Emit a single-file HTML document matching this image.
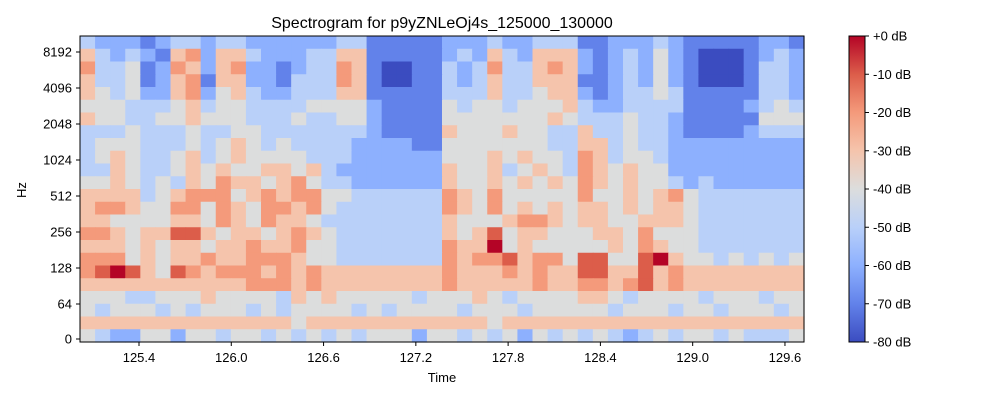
<!DOCTYPE html>
<html><head><meta charset="utf-8">
<style>
body{margin:0;background:#fff;}
svg text{font-family:"Liberation Sans",sans-serif;fill:#000;}
</style></head>
<body>
<svg id="chart" width="1000" height="400" viewBox="0 0 1000 400">
<defs>
<linearGradient id="cmap" x1="0" y1="1" x2="0" y2="0">
<stop offset="0" stop-color="#3b4cc0"/><stop offset="0.125" stop-color="#6282ea"/>
<stop offset="0.25" stop-color="#8db0fe"/><stop offset="0.375" stop-color="#b9d0f9"/>
<stop offset="0.5" stop-color="#dcdddd"/><stop offset="0.625" stop-color="#f5c4ac"/>
<stop offset="0.75" stop-color="#f49a7b"/><stop offset="0.875" stop-color="#dc5d4a"/>
<stop offset="1" stop-color="#b40426"/>
</linearGradient>
</defs>
<text x="442" y="28" font-size="16" text-anchor="middle">Spectrogram for p9yZNLeOj4s_125000_130000</text>
<g id="cells"></g>
<rect x="80" y="36" width="724" height="306" fill="none" stroke="#000" stroke-width="1"/>
<g id="xticks"></g>
<g id="yticks"></g>
<text x="442" y="382" font-size="13" text-anchor="middle">Time</text>
<text x="26" y="190" font-size="13" text-anchor="middle" transform="rotate(-90 26 190)">Hz</text>
<rect x="849" y="36" width="16" height="306" fill="url(#cmap)" stroke="#000" stroke-width="1"/>
<g id="cbticks"></g>
</svg>
<script>
const xTickLabels = ["125.4","126.0","126.6","127.2","127.8","128.4","129.0","129.6"];
const yTickLabels = [0,64,128,256,512,1024,2048,4096,8192];
const cbTickLabels = [0,-10,-20,-30,-40,-50,-60,-70,-80];
// each row: 48 time columns, digit d = -10*d dB; row 0 = highest frequency
const dbRows = [
"566676556556666665577777666566555776665677777667",
"356567326335666553377777656356333676564678887656",
"255476236326676552378877565255323676564678887556",
"355476327336675552378877565355333776564678887556",
"345466326435665553377777555355433676554577777556",
"444555435445555444467777454454443566555577776545",
"344554434445554554467777444444434555455677777444",
"555455545544555555567777344434455355455677776555",
"544455545434545555666677444444455335455666666666",
"543455435434444555666666444343445235445666666666",
"553455434344334356666666344354345234344666666666",
"443454534233432455666666344343434234344565666666",
"333354322243232244555555234244444244343245555555",
"322344224234223245555555234243434334343345555555",
"334444334234233455555555344432234334433345555555",
"223433113433432345555555343143344433424445555555",
"333434334332332445555555233043444443423445555555",
"222434332332223445555555232213224114410344545454",
"210134123222323233333333233323233113313233333333",
"333333333332223233333333233333233223213233333333",
"444554443444453434444454443454444334544445444544",
"454445454445454444545444454445444445444544544454",
"333333333333334333333333333433333333333333333333",
"456644644544545454544464454546454545654544545554"
];
const X0=80,X1=804,Y0=36,Y1=342;
const t0=125.4, tx0=139, pxPerSec=153.8;
function xScale(t){return tx0+(t-t0)*pxPerSec;}
function yScale(f){ if(f<64) return 339-f/64*35; return 304-36*Math.log2(f/64); }
function colorFor(db){
  const stops=[[59,76,192],[98,130,234],[141,176,254],[185,208,249],[220,221,221],[245,196,172],[244,154,123],[220,93,74],[180,4,38]];
  let t=(db+80)/80*8; t=Math.max(0,Math.min(8,t));
  const i=Math.min(7,Math.floor(t)), f=t-i;
  const c=stops[i].map((v,k)=>Math.round(v+(stops[i+1][k]-v)*f));
  return `rgb(${c[0]},${c[1]},${c[2]})`;
}
const ns="http://www.w3.org/2000/svg";
const cells=document.getElementById('cells');
const nR=dbRows.length, nC=dbRows[0].length;
const cw=(X1-X0)/nC, ch=(Y1-Y0)/nR;
for(let r=0;r<nR;r++){
  for(let c=0;c<nC;c++){
    const db=-10*parseInt(dbRows[r][c],10);
    const el=document.createElementNS(ns,'rect');
    el.setAttribute('x',(X0+c*cw).toFixed(2));
    el.setAttribute('y',(Y0+r*ch).toFixed(2));
    el.setAttribute('width',(cw+0.6).toFixed(2));
    el.setAttribute('height',(ch+0.6).toFixed(2));
    el.setAttribute('fill',colorFor(db));
    
    
    cells.appendChild(el);
  }
}
const xt=document.getElementById('xticks');
xTickLabels.forEach(l=>{
  const x=xScale(parseFloat(l));
  const ln=document.createElementNS(ns,'line');
  ln.setAttribute('x1',x);ln.setAttribute('x2',x);ln.setAttribute('y1',342);ln.setAttribute('y2',346);ln.setAttribute('stroke','#000');
  
  
  xt.appendChild(ln);
  const tx=document.createElementNS(ns,'text');
  tx.setAttribute('x',x);tx.setAttribute('y',362);tx.setAttribute('font-size','13');tx.setAttribute('text-anchor','middle');
  tx.textContent=l;
  
  
  xt.appendChild(tx);
});
const yt=document.getElementById('yticks');
yTickLabels.forEach(f=>{
  const y=yScale(f);
  const ln=document.createElementNS(ns,'line');
  ln.setAttribute('x1',76);ln.setAttribute('x2',80);ln.setAttribute('y1',y);ln.setAttribute('y2',y);ln.setAttribute('stroke','#000');
  
  
  yt.appendChild(ln);
  const tx=document.createElementNS(ns,'text');
  tx.setAttribute('x',72);tx.setAttribute('y',y+4.5);tx.setAttribute('font-size','13');tx.setAttribute('text-anchor','end');
  tx.textContent=String(f);
  
  
  yt.appendChild(tx);
});
const cb=document.getElementById('cbticks');
cbTickLabels.forEach(v=>{
  const y=36+(-v/80)*306;
  const ln=document.createElementNS(ns,'line');
  ln.setAttribute('x1',865);ln.setAttribute('x2',869);ln.setAttribute('y1',y);ln.setAttribute('y2',y);ln.setAttribute('stroke','#000');
  
  
  cb.appendChild(ln);
  const tx=document.createElementNS(ns,'text');
  tx.setAttribute('x',873);tx.setAttribute('y',y+4.5);tx.setAttribute('font-size','13');
  tx.textContent=(v===0?'+0':String(v))+' dB';
  
  
  cb.appendChild(tx);
});
</script>
</body></html>
